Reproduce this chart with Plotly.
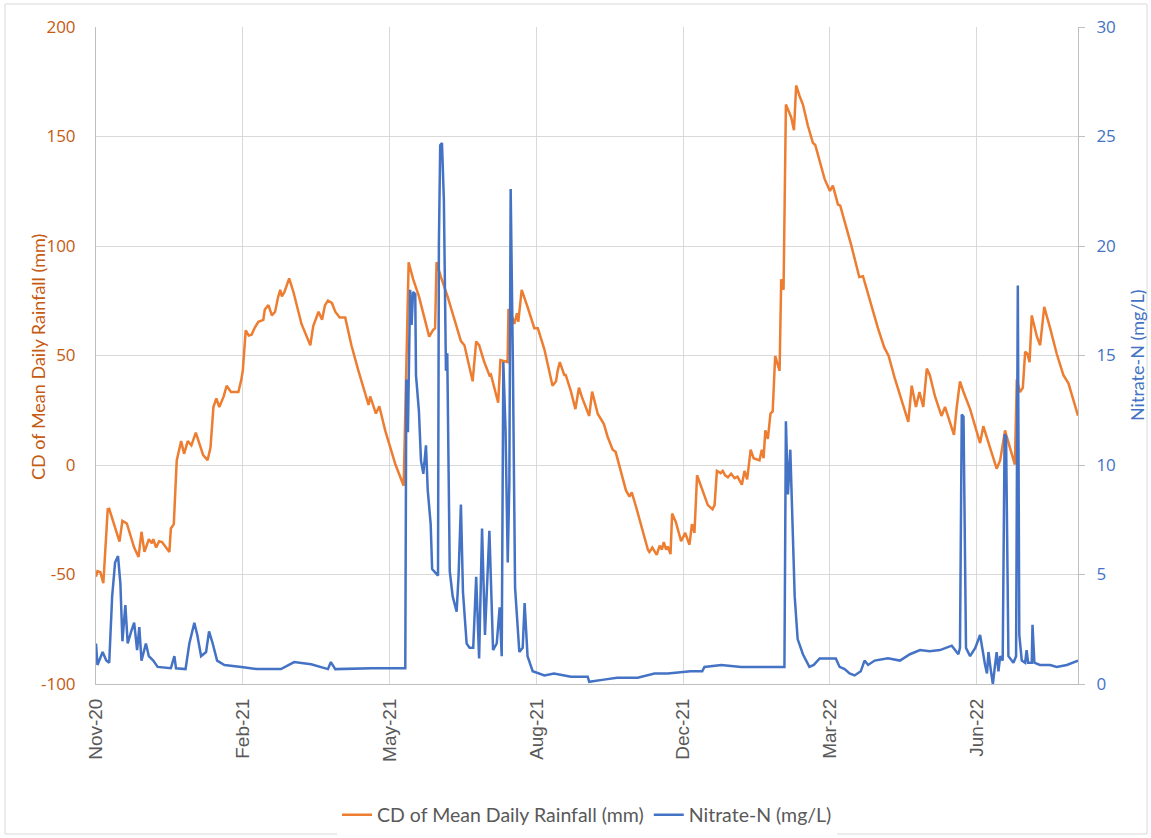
import pandas as pd
import plotly.graph_objects as go

start_date = "2020-11-01"

# CD of Mean Daily Rainfall (mm): day offset from start, value
rain_day = [0, 1, 3, 5, 8, 9, 16, 18, 21, 26, 29, 31, 33, 36, 38, 39, 41, 43, 45, 50, 51, 53, 55, 58, 60, 62.5, 65, 68, 73, 76, 78, 80, 82, 84, 87, 89, 92, 97, 99, 100, 102, 104, 106, 108, 110.6, 114, 115, 117.5, 119.8, 122, 124, 125.5, 126.6, 128.4, 131.6, 134.5, 140, 146, 148, 151.6, 154, 156, 158, 160.7, 163, 166, 169.8, 174, 178.8, 185.7, 186.8, 190.7, 193, 197, 204, 209.6, 213, 216, 220, 223.6, 227, 229.5, 231, 232, 235, 239.5, 248.6, 251, 256.6, 259, 261, 264.5, 268, 269, 274, 275.5, 278, 280.4, 281, 282.7, 285, 286.8, 287.7, 290, 294, 298.6, 301, 305.5, 311, 313.4, 314.5, 316, 319, 320, 323.6, 326.6, 329, 331, 336, 338, 341.8, 344, 346, 348.6, 352, 354, 361, 363.4, 365, 368, 376, 377, 379, 382, 384, 385.5, 386.8, 388.4, 389.5, 391.4, 392.5, 395, 398.6, 401.4, 404.3, 406, 407.7, 409.5, 411, 416.8, 420, 421.4, 423, 425.5, 427, 428.6, 430.5, 432.7, 435, 437, 440, 441.8, 443.6, 446, 448, 452, 453.6, 454.8, 456, 457.7, 459.5, 461, 462.7, 465.7, 466.8, 468.4, 470, 473.6, 475.5, 477, 479.3, 481.6, 485, 488.4, 490, 493, 496.4, 500, 502, 505.5, 507, 514.5, 520, 522.5, 526, 528, 532.7, 537, 540, 544, 548.6, 553.4, 555.7, 558.6, 561, 563.6, 566, 568, 571.6, 576, 578.4, 584.5, 586.4, 588.6, 591, 595.5, 602.3, 604.5, 609, 613.6, 616, 619.3, 620.5, 626, 627.3, 629.5, 631.4, 633, 634.5, 636, 637.5, 641, 643.2, 646, 650, 654.5, 659, 662.5, 669]
rain_val = [-51, -48.5, -49, -54, -20.2, -20, -35, -25.5, -26.7, -37.7, -42, -30.5, -39.7, -33.9, -35.8, -33.9, -37.7, -34.8, -35.2, -39.7, -29, -27, 2.1, 10.9, 5.1, 10.9, 9, 14.8, 4.5, 2.2, 8, 26.5, 30.4, 26.5, 31.3, 36.2, 33.3, 33.3, 39, 43, 61.5, 59.1, 59.5, 62.5, 65.4, 66.3, 71, 73, 68.3, 70, 76.5, 80, 77, 79, 85.2, 79, 64.4, 54.7, 63.4, 70, 66.3, 73, 75, 74, 70, 67.3, 67.3, 54.7, 43, 27.4, 31.3, 23.5, 26.8, 15.8, 0.2, -9.5, 92.6, 85, 77, 67, 58.6, 61.5, 62.5, 92.6, 85.8, 77, 56.6, 54.7, 38.2, 56.4, 54.7, 47, 41, 41.4, 28.4, 47.9, 47.3, 47, 71.2, 69.3, 64.4, 69.3, 65.4, 80, 72.2, 62.5, 62.5, 52.7, 36.2, 38.2, 43, 47, 41.1, 41.1, 33.5, 25.5, 35.3, 31.1, 22.4, 33.5, 23.4, 20.6, 18.7, 12.8, 7, 6, -11.5, -14.4, -12.5, -19.3, -38.7, -39.7, -37.7, -41, -36.8, -38.7, -35.2, -38.7, -37.2, -40.7, -22.2, -26, -34.8, -31, -36.4, -27, -31, -4.7, -7.6, -18.3, -20.2, -18.3, -2.7, -3.7, -2.7, -4.7, -5.6, -4, -6, -5.3, -9, -2.7, -6.6, 7, 3.1, 2.1, 7, 3.1, 15.8, 11.9, 23.5, 24.5, 49.8, 43, 84.8, 80, 164.6, 158.8, 152.9, 173.3, 168.5, 164.6, 154.9, 147.1, 146.1, 138.3, 130.5, 125.1, 127.6, 118.9, 118.4, 100.4, 85.8, 86.2, 78, 74.1, 62.5, 53.7, 49.8, 40, 30.4, 19.7, 36.2, 26.5, 33.3, 26.5, 44, 41.1, 31.3, 22.4, 26.5, 13.8, 26.5, 38.2, 33.3, 25.5, 10, 17.7, 8, -1.7, 2.2, 15.8, 12.8, 0.2, 39, 33.3, 35.2, 51.7, 50.8, 47, 68.3, 58.6, 54.7, 72.2, 62.5, 50.8, 41.1, 37.3, 22.5]

# Nitrate-N (mg/L): day offset from start, value
nit_day = [0, 1, 4.5, 7, 9, 11, 13, 15, 16.6, 18, 20, 21.6, 24, 26, 28, 29.5, 31, 34, 36, 39, 42, 51, 53.4, 54.5, 61, 63.6, 67, 69, 71.6, 75, 77, 79.5, 82.5, 87.5, 99, 110, 126, 135, 146.6, 158, 160, 163, 188, 210.7, 211.4, 212.5, 214, 215, 216, 217.5, 218, 220, 221.4, 223, 224.8, 226, 228, 229, 233, 233.6, 234.5, 235.7, 237, 238.4, 239.3, 241, 243, 245.7, 247, 248.6, 250, 252.5, 254.5, 257, 259, 261, 263, 265, 268, 270.5, 273, 275, 276.4, 277.5, 279, 280.5, 281.6, 282.5, 284, 285.5, 288.4, 290.7, 292, 294, 297.5, 305.5, 312, 323.6, 335, 336, 346, 355, 369, 380.5, 389.5, 396, 405, 413, 414.5, 426, 439.5, 455.5, 469, 470, 471.4, 473, 474, 476, 478, 481.6, 486, 489, 493, 498.6, 504, 506.6, 510, 513.4, 516.8, 521, 523.6, 526, 530.5, 539.5, 547.7, 554.5, 561.4, 568, 575, 583, 587.5, 588.6, 589.8, 591, 592.7, 595.5, 599, 602.3, 604, 605.7, 607, 608, 609.5, 611, 612.5, 613.6, 614.8, 616, 617.7, 619, 620, 621.6, 625, 626.8, 628, 629, 630.7, 633, 634, 635, 637.5, 638, 639.3, 643, 650, 654.5, 661.4, 669]
nit_val = [1.85, 0.87, 1.46, 1.07, 0.97, 4.0, 5.55, 5.84, 4.6, 1.95, 3.6, 1.85, 2.4, 2.8, 1.55, 2.6, 1.07, 1.85, 1.27, 1.07, 0.78, 0.72, 1.27, 0.72, 0.68, 1.85, 2.8, 2.24, 1.27, 1.46, 2.4, 1.85, 1.07, 0.87, 0.78, 0.68, 0.68, 1.0, 0.9, 0.68, 1.0, 0.68, 0.72, 0.72, 13.9, 11.5, 18, 16.4, 17.9, 17.8, 14.1, 12.45, 10.2, 9.6, 10.9, 8.85, 7.3, 5.25, 4.95, 20.1, 24.6, 24.7, 22.1, 14.3, 15.1, 5.15, 4.0, 3.3, 4.95, 8.2, 4.2, 1.85, 1.65, 1.65, 4.9, 1.17, 7.1, 2.24, 7.0, 1.55, 1.85, 3.5, 1.27, 14.7, 11.6, 5.55, 9.2, 22.6, 14.7, 4.4, 1.46, 1.65, 3.7, 1.27, 0.58, 0.39, 0.48, 0.33, 0.33, 0.1, 0.2, 0.29, 0.29, 0.48, 0.48, 0.52, 0.58, 0.58, 0.78, 0.87, 0.78, 0.78, 0.78, 12, 8.66, 10.7, 8.66, 4.0, 2.05, 1.36, 0.78, 0.87, 1.17, 1.17, 1.17, 0.78, 0.68, 0.48, 0.39, 0.58, 1.07, 0.87, 1.07, 1.17, 1.07, 1.36, 1.55, 1.5, 1.55, 1.75, 1.36, 1.65, 12.3, 12.2, 1.65, 1.27, 1.65, 2.24, 1.46, 0.87, 0.48, 1.46, 0.68, 0.0, 0.87, 1.46, 0.58, 1.27, 1.07, 11.4, 11.3, 1.27, 0.97, 1.27, 18.2, 2.24, 1.07, 0.97, 1.55, 0.97, 0.97, 2.7, 0.97, 0.87, 0.87, 0.78, 0.87, 1.07]

tick_days = [0, 100, 200, 300, 400, 500, 600]
tick_labels = ["Nov-20", "Feb-21", "May-21", "Aug-21", "Dec-21", "Mar-22", "Jun-22"]
range_days = [0, 669]

y_ticks = [-100, -50, 0, 50, 100, 150, 200]
y_tick_labels = ["-100", "-50", "0", "50", "100", "150", "200"]
y2_ticks = [0, 5, 10, 15, 20, 25, 30]
y2_tick_labels = ["0", "5", "10", "15", "20", "25", "30"]

t0 = pd.Timestamp(start_date)
def to_dates(days):
    return [t0 + pd.Timedelta(days=float(d)) for d in days]

ORANGE = "#ED7D31"
BLUE = "#4472C4"
AX_ORANGE = "#C55A11"
GRID = "#D9D9D9"
FONT = "Lato"
TICKFONT = "Open Sans"

W, H = 1151, 838
L, R, T, B = 96, 1078, 27, 684
PW, PH = R - L, B - T

def px(xs):  # screen x -> paper x
    return (xs - L) / PW

def py(ys):  # screen y -> paper y
    return 1 - (ys - T) / PH

fig = go.Figure()
fig.add_trace(go.Scatter(x=to_dates(rain_day), y=rain_val, mode="lines",
                         name="CD of Mean Daily Rainfall (mm)",
                         line=dict(color=ORANGE, width=2.5)))
fig.add_trace(go.Scatter(x=to_dates(nit_day), y=nit_val, mode="lines",
                         name="Nitrate-N (mg/L)", yaxis="y2",
                         line=dict(color=BLUE, width=2.5)))

fig.update_layout(
    width=W, height=H,
    margin=dict(l=L, r=W - R, t=T, b=H - B, autoexpand=False),
    paper_bgcolor="white", plot_bgcolor="white",
    font=dict(family=FONT, color="#595959"),
    showlegend=True,
    legend=dict(orientation="h", x=0.5, xanchor="center", y=py(815), yanchor="middle",
                font=dict(size=19.5, color="#595959", family=FONT)),
    xaxis=dict(type="date", range=to_dates(range_days), automargin=False,
               tickvals=to_dates(tick_days), ticktext=tick_labels,
               tickangle=-90, tickfont=dict(size=19, color="#595959", family="Liberation Sans"),
               showgrid=True, gridcolor=GRID, gridwidth=1,
               showline=True, linecolor="#BFBFBF", linewidth=1,
               ticks="", ticklabelstandoff=6, zeroline=False),
    yaxis=dict(range=[-100, 200], tickvals=y_ticks, ticktext=y_tick_labels, automargin=False,
               tickfont=dict(size=17, color=AX_ORANGE, family=TICKFONT),
               showgrid=True, gridcolor=GRID, gridwidth=1, zeroline=False,
               showline=True, linecolor="#BFBFBF", ticks="", ticklabelstandoff=16),
    yaxis2=dict(range=[0, 30], tickvals=y2_ticks, ticktext=y2_tick_labels, overlaying="y",
                side="right", automargin=False,
                tickfont=dict(size=17, color=BLUE, family=TICKFONT),
                showgrid=False, zeroline=False, showline=True, linecolor="#BFBFBF",
                ticks="outside", ticklen=6, tickcolor="#BFBFBF", ticklabelstandoff=8),
)

# axis titles
fig.add_annotation(text="CD of Mean Daily Rainfall (mm)", xref="paper", yref="paper",
                   x=px(38), y=py(357), xanchor="center", yanchor="middle",
                   textangle=-90, showarrow=False,
                   font=dict(size=18, color=AX_ORANGE, family=FONT))
fig.add_annotation(text="Nitrate-N (mg/L)", xref="paper", yref="paper",
                   x=px(1137), y=py(355), xanchor="center", yanchor="middle",
                   textangle=-90, showarrow=False,
                   font=dict(size=18, color=BLUE, family=FONT))

# outer chart border
fig.add_shape(type="rect", xref="paper", yref="paper",
              x0=px(5), x1=px(1147), y0=py(834), y1=py(4),
              line=dict(color="#D9D9D9", width=1), fillcolor="rgba(0,0,0,0)", layer="below")

# remove the default page margin so the figure sits at the window origin
fig.write_html("out.html", config={"displayModeBar": False},
               post_script="document.body.style.margin='0';document.body.style.overflow='hidden';")
